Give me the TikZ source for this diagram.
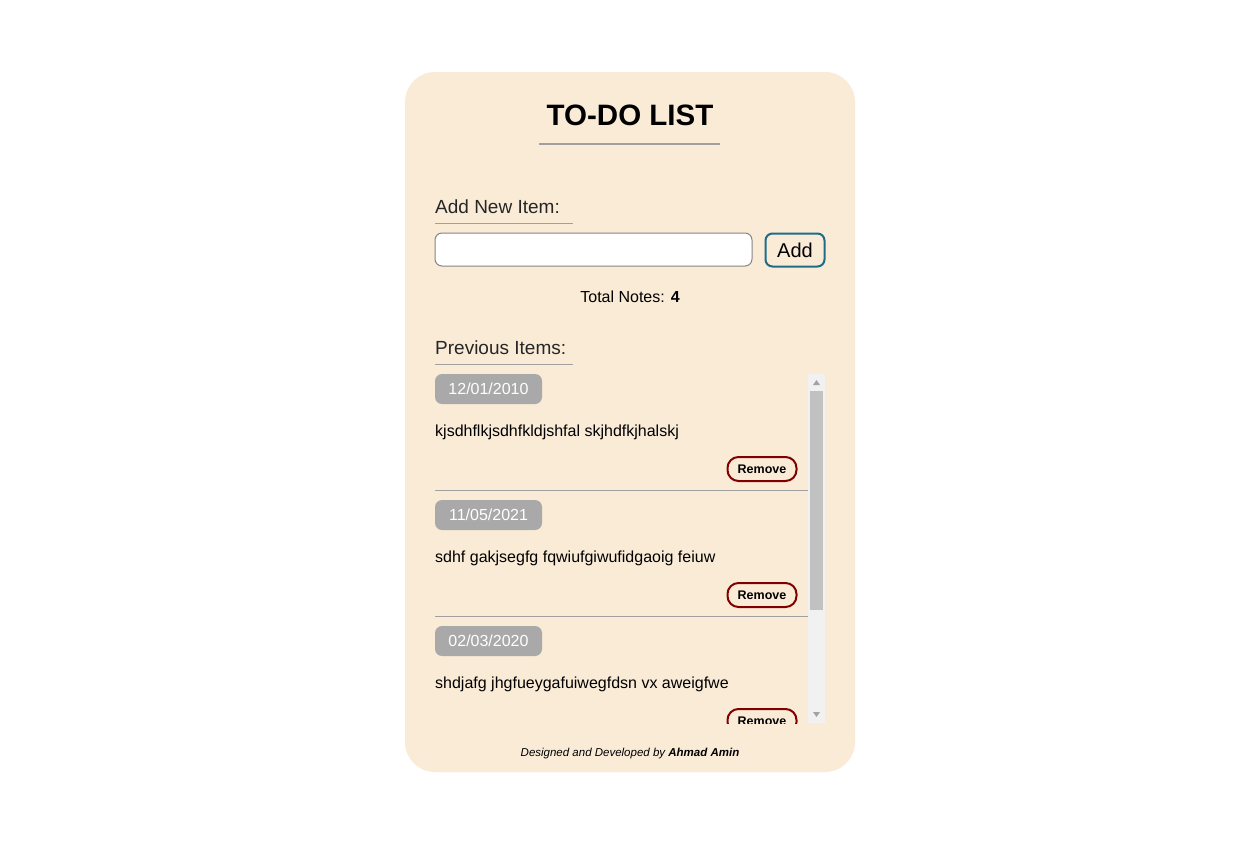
\documentclass[tikz,border=0pt]{standalone}
\usepackage{fontspec}
\setmainfont{Liberation Sans}
\usetikzlibrary{positioning}
\definecolor{cardbg}{RGB}{250,235,215}
\definecolor{rulegray}{RGB}{160,160,160}
\definecolor{boxgray}{RGB}{133,133,133}
\definecolor{addteal}{RGB}{30,108,136}
\definecolor{dategray}{RGB}{169,169,169}
\definecolor{maroonred}{RGB}{128,0,0}
\definecolor{track}{RGB}{241,241,241}
\definecolor{thumb}{RGB}{193,193,193}
\definecolor{arrowgray}{RGB}{163,163,163}
\tikzset{txt/.style={inner sep=0pt, anchor=base west, font=\fontsize{16}{16}\selectfont}}
\tikzset{lbl/.style={inner sep=0pt, anchor=base west, font=\fontsize{19}{19}\selectfont, text=black!85}}
\tikzset{datebox/.style={fill=dategray, rounded corners=7pt, minimum width=107pt, minimum height=30pt, inner sep=0pt, text=white, font=\fontsize{16}{16}\selectfont}}
\tikzset{rembox/.style={draw=maroonred, line width=2pt, rounded corners=11pt, minimum width=69pt, minimum height=24pt, inner sep=0pt, font=\bfseries\fontsize{12.5}{12.5}\selectfont}}

\begin{document}
\begin{tikzpicture}[x=1pt, y=-1pt]
  \useasboundingbox [fill=white] (0,0) rectangle (1237,841);
  % card
  \fill [cardbg, rounded corners=30pt] (405,72) rectangle (855,772);
  % header
  \node (title) [inner sep=0pt, anchor=base, font=\bfseries\fontsize{29.5}{29.5}\selectfont] at (630,125) {TO-DO LIST};
  \draw [rulegray, line width=1.5pt] (539,144) -- (720,144);
  \node (addlbl) [lbl] at (435,213) {Add New Item:};
  \draw [rulegray, line width=1pt] (435,223) -- (573,223);
  \node (input) [draw=boxgray, line width=1pt, fill=white, rounded corners=7pt, minimum width=317pt, minimum height=33pt] at (593.5,249.5) {};
  \node (add) [draw=addteal, line width=2pt, rounded corners=7pt, minimum width=59pt, minimum height=33pt, inner sep=0pt, font=\fontsize{20}{20}\selectfont] at (795,250) {Add};
  \node (total) [inner sep=0pt, anchor=base, font=\fontsize{16}{16}\selectfont] at (630,302) {Total Notes: \textbf{4}};
  \node (prevlbl) [lbl] at (435,354) {Previous Items:};
  \draw [rulegray, line width=1pt] (435,364) -- (573,364);
  % scrollbar
  \fill [track] (808,374) rectangle (825,723);
  \fill [thumb] (810,391) rectangle (823,610);
  \fill [arrowgray] (813,385) -- (820,385) -- (816.5,380) -- cycle;
  \fill [arrowgray] (813,712) -- (820,712) -- (816.5,717) -- cycle;
  % items
  \begin{scope}
    \clip (430,370) rectangle (808,723);
    \node (date1) [datebox] at (488.5,389) {12/01/2010};
    \node (note1) [txt] at (435,436) {kjsdhflkjsdhfkldjshfal skjhdfkjhalskj};
    \node (rem1) [rembox] at (762,469) {Remove};
    \draw [rulegray, line width=1pt] (435,490.5) -- (808,490.5);
    \node (date2) [datebox] at (488.5,515) {11/05/2021};
    \node (note2) [txt] at (435,562) {sdhf gakjsegfg fqwiufgiwufidgaoig feiuw};
    \node (rem2) [rembox] at (762,595) {Remove};
    \draw [rulegray, line width=1pt] (435,616.5) -- (808,616.5);
    \node (date3) [datebox] at (488.5,641) {02/03/2020};
    \node (note3) [txt] at (435,688) {shdjafg jhgfueygafuiwegfdsn vx aweigfwe};
    \node (rem3) [rembox] at (762,721) {Remove};
  \end{scope}
  % footer
  \node (footer) [inner sep=0pt, anchor=base, font=\itshape\fontsize{11.5}{11.5}\selectfont] at (630,756.5) {Designed and Developed by \textbf{Ahmad Amin}};
\end{tikzpicture}
\end{document}
